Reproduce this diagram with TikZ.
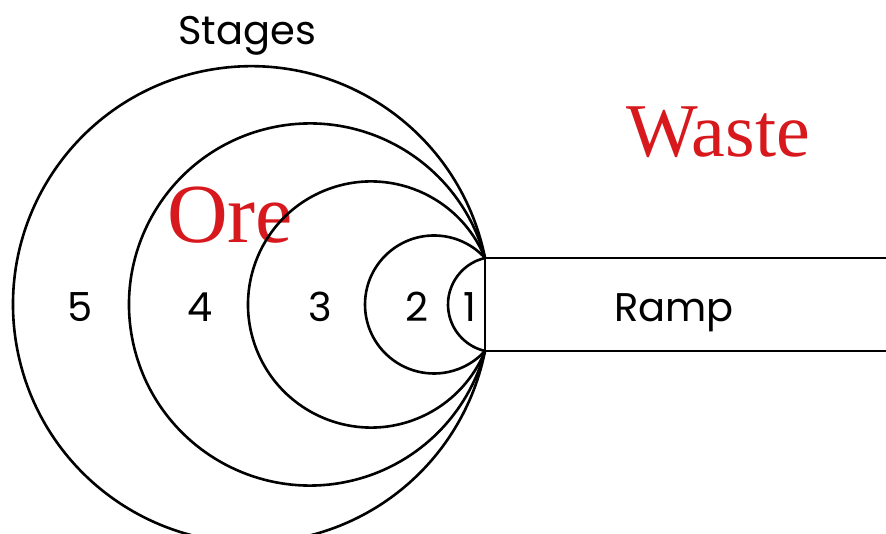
\documentclass[tikz,border=0pt]{standalone}
\usepackage{fontspec}
\newfontfamily\gothfont{Poppins}
\newfontfamily\romfont{Liberation Serif}
\usetikzlibrary{calc}
\definecolor{c0}{RGB}{215,25,30}
\tikzset{%
  lbl/.style={font=\gothfont\fontsize{40}{40}\selectfont,inner sep=0pt,anchor=base},
  big/.style={font=\romfont\fontsize{#1}{#1}\selectfont,text=c0,inner sep=0pt,anchor=base},
  big/.default=78
}
% one stage: arc through both ramp corners, #1 = left point x, #2 = label, #3 = label x
\NewDocumentCommand\stage{mmm}{%
  \pgfmathparse{485-#1}\let\stgD\pgfmathresult
  \pgfmathparse{\stgD/2+46.5*46.5/(2*\stgD)}\let\stgR\pgfmathresult
  \pgfmathparse{atan2(46.5,\stgD-\stgR)}\let\stgA\pgfmathresult
  \draw (rt) arc[start angle=\stgA,end angle=360-\stgA,radius=\stgR pt];
  \node[lbl] (s#2) at (#3,211) {#2};
}

\begin{document}
\begin{tikzpicture}[x=1pt,y=1pt,line width=2.6pt]
  \useasboundingbox (0,0) rectangle (886,533);
  % Ramp
  \coordinate (rt) at (485,275);
  \coordinate (rb) at (485,182);
  \coordinate (rte) at (886,275);
  \coordinate (rbe) at (886,182);
  \draw (rte) -- (rt) -- (rb) -- (rbe);
  \node[lbl] (ramp) at (674,211) {Ramp};
  % Labels
  \node[lbl] (title) at (247,488) {Stages};
  \node[big=84] (ore) at (230,290) {Ore};
  \node[big=76] (waste) at (718,376) {Waste};
  % Stages
  \stage{13}{5}{80}
  \stage{129}{4}{200}
  \stage{248}{3}{320}
  \stage{365}{2}{417}
  \stage{448}{1}{470}
\end{tikzpicture}
\end{document}
